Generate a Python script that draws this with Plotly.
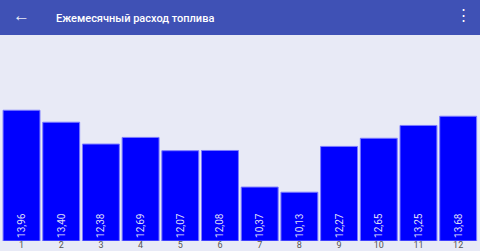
import plotly.graph_objects as go

months = [1, 2, 3, 4, 5, 6, 7, 8, 9, 10, 11, 12]
consumption = [13.96, 13.40, 12.38, 12.69, 12.07, 12.08, 10.37, 10.13, 12.27, 12.65, 13.25, 13.68]
labels = ["13,96", "13,40", "12,38", "12,69", "12,07", "12,08", "10,37", "10,13", "12,27", "12,65", "13,25", "13,68"]
tick_text = [str(m) for m in months]
title_text = "Ежемесячный расход топлива"

W, H = 480, 251
TOP, BOTTOM = 35, 10
plot_h = H - TOP - BOTTOM
Y_MIN = 7.85
PX_PER_UNIT = 21.4

fig = go.Figure(go.Bar(
    x=months, y=[v - Y_MIN for v in consumption], base=Y_MIN, text=labels,
    textposition="inside", insidetextanchor="start", textangle=-90,
    textfont=dict(family="Roboto", size=10, color="#dedef8"),
    marker=dict(color="#0000ff", line=dict(color="#7a7aff", width=1)),
    width=0.93,
))

fig.update_layout(
    width=W, height=H,
    margin=dict(l=0, r=0, t=TOP, b=BOTTOM),
    paper_bgcolor="#e8eaf6", plot_bgcolor="#e8eaf6",
    showlegend=False,
    font=dict(family="Roboto"),
    xaxis=dict(range=[0.458, 12.55], tickmode="array", tickvals=months, ticktext=tick_text,
               showgrid=False, zeroline=False, showline=False, ticks="", ticklen=0,
               ticklabelstandoff=-3,
               tickfont=dict(size=9, color="#555555")),
    yaxis=dict(range=[Y_MIN, Y_MIN + plot_h / PX_PER_UNIT], visible=False, showgrid=False, fixedrange=True),
    shapes=[
        dict(type="rect", xref="paper", yref="paper", x0=0, x1=1, y0=1, y1=1 + TOP / plot_h,
             fillcolor="#3f51b5", line=dict(width=0), layer="above"),
    ],
    annotations=[
        dict(text="←", xref="paper", yref="paper", x=21 / W, y=1 + (TOP - 15) / plot_h,
             showarrow=False, font=dict(size=17, color="#e8eaf6"), xanchor="center", yanchor="middle"),
        dict(text=title_text, xref="paper", yref="paper", x=54 / W, y=1 + (TOP - 18) / plot_h,
             showarrow=False, font=dict(family="Roboto", size=11, color="#ffffff", weight=500),
             xanchor="left", yanchor="middle"),
        dict(text="⋮", xref="paper", yref="paper", x=463 / W, y=1 + (TOP - 15) / plot_h,
             showarrow=False, font=dict(size=15, color="#ffffff"), xanchor="center", yanchor="middle"),
    ],
)

fig.write_html("out.html")
